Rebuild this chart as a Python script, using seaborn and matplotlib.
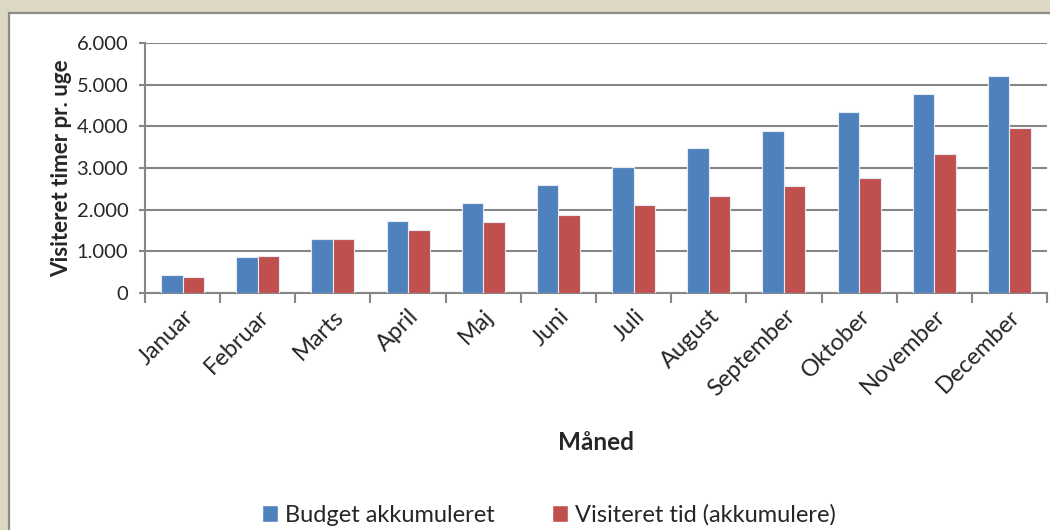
import numpy as np
import pandas as pd
import matplotlib
matplotlib.use("Agg")
import matplotlib.pyplot as plt
import seaborn as sns
from matplotlib.patches import Rectangle

months = ['Januar', 'Februar', 'Marts', 'April', 'Maj', 'Juni', 'Juli',
          'August', 'September', 'Oktober', 'November', 'December']
budget = [425, 860, 1300, 1730, 2160, 2600, 3030, 3470, 3900, 4340, 4770, 5210]
visiteret = [380, 885, 1295, 1505, 1715, 1865, 2115, 2325, 2570, 2770, 3325, 3965]
series = ['Budget akkumuleret', 'Visiteret tid (akkumulere)']
colors = ['#4F81BD', '#C0504D']

df = pd.DataFrame({
    'Måned': months * 2,
    'timer': budget + visiteret,
    'serie': [series[0]] * 12 + [series[1]] * 12,
})

sns.set_style('white')
plt.rcParams['font.family'] = ['Lato', 'DejaVu Sans']

fig = plt.figure(figsize=(10.5, 5.3), dpi=100, facecolor='#DDD8C3')
# white chart area with grey frame
fig.patches.append(Rectangle((9 / 1050, -0.1), 1.2, 517 / 530 + 0.1,
                             transform=fig.transFigure, facecolor='white',
                             edgecolor='#8C8C8C', lw=1.6, zorder=-5))

ax = fig.add_axes([145 / 1050, 237 / 530, 902 / 1050, 250 / 530])
ax.set_facecolor('none')
sns.barplot(data=df, x='Måned', y='timer', hue='serie', palette=colors,
            saturation=1, width=0.57, ax=ax, edgecolor='#E6ECF5',
            linewidth=0.8, legend=False, zorder=3)

ax.set_ylim(0, 6000)
ax.set_xlim(-0.5, 11.5)
ax.set_yticks(np.arange(0, 6001, 1000))
ax.set_yticklabels([f'{v:,}'.replace(',', '.') for v in range(0, 6001, 1000)],
                   fontsize=14.5)
ax.yaxis.grid(True, color='#868686', lw=1.5, zorder=0)
ax.set_axisbelow(True)

ax.set_xticks(np.arange(-0.5, 12, 1), minor=True)
ax.tick_params(axis='x', which='major', length=0, pad=9)
ax.tick_params(axis='x', which='minor', length=7, width=1.5, color='#868686',
               direction='out', bottom=True)
ax.tick_params(axis='y', length=4, width=1.5, color='#868686', left=True,
               direction='out', pad=8)
for lab in ax.get_xticklabels():
    lab.set_rotation(45)
    lab.set_ha('right')
    lab.set_rotation_mode('anchor')
    lab.set_fontsize(17)

for s in ['top', 'right']:
    ax.spines[s].set_visible(False)
for s in ['left', 'bottom']:
    ax.spines[s].set_color('#868686')
    ax.spines[s].set_linewidth(1.5)

ax.set_xlabel('Måned', fontsize=17.5, fontweight='bold', labelpad=22)
ax.set_ylabel('Visiteret timer pr. uge', fontsize=16, fontweight='bold',
              labelpad=3)

handles = [Rectangle((0, 0), 1, 1, facecolor=c) for c in colors]
fig.legend(handles, series, loc='center', bbox_to_anchor=(549 / 1050, 15 / 530),
           ncol=2, frameon=False, fontsize=17, handlelength=0.7,
           handleheight=0.7, handletextpad=0.3, columnspacing=2.4)

fig.savefig('out.png', dpi=100, facecolor=fig.get_facecolor())
